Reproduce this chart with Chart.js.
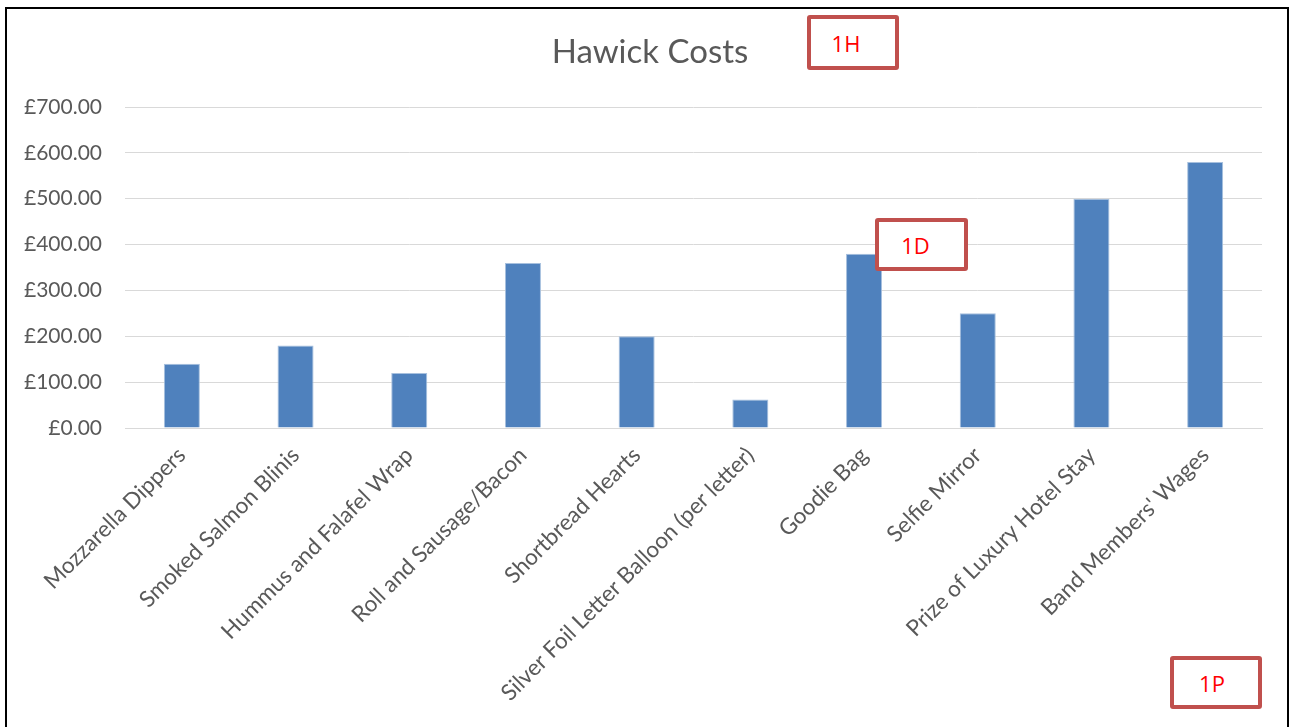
<!DOCTYPE html>
<html>
<head>
<meta charset="utf-8">
<script src="https://cdn.jsdelivr.net/npm/chart.js@4"></script>
<style>
  html, body { margin: 0; padding: 0; background: #fff; }
  #wrap { position: relative; width: 1295px; height: 727px; overflow: hidden; }
  #frame { position: absolute; left: 5px; top: 7px; width: 1284px; height: 730px; border: 2px solid #000; box-sizing: border-box; }
  canvas { position: absolute; left: 0; top: 0; }
  .tag { position: absolute; border: 4px solid #C0504D; border-radius: 3px; box-sizing: border-box; background: #fff;
         color: #FF0000; font-family: "Open Sans", Arial, sans-serif; font-size: 22px; line-height: 1; display: flex; align-items: center; justify-content: center; }
</style>
</head>
<body>
<div id="wrap">
  <canvas id="c" width="1295" height="727"></canvas>
  <div id="frame"></div>
  <div class="tag" style="left:807px;top:15px;width:92px;height:55px;padding-right:14px;">1H</div>
  <div class="tag" style="left:875px;top:218px;width:93px;height:53px;padding-right:12px;">1D</div>
  <div class="tag" style="left:1170px;top:656px;width:92px;height:53px;padding-right:8px;">1P</div>
</div>
<script>
const categories = [
  "Mozzarella Dippers",
  "Smoked Salmon Blinis",
  "Hummus and Falafel Wrap",
  "Roll and Sausage/Bacon",
  "Shortbread Hearts",
  "Silver Foil Letter Balloon (per letter)",
  "Goodie Bag",
  "Selfie Mirror",
  "Prize of Luxury Hotel Stay",
  "Band Members' Wages"
];
const costs = [140, 180, 120, 360, 200, 62, 380, 250, 500, 580];
const yTicks = [0, 100, 200, 300, 400, 500, 600, 700];
const chartTitle = "Hawick Costs";

const FONT = "Lato";

const titlePlugin = {
  id: 'centeredTitle',
  afterDraw(chart) {
    const ctx = chart.ctx;
    ctx.save();
    ctx.font = `normal 33px ${FONT}`;
    ctx.fillStyle = '#595959';
    ctx.textAlign = 'center';
    ctx.textBaseline = 'alphabetic';
    ctx.fillText(chartTitle, 650, 63);
    ctx.restore();
  }
};

new Chart(document.getElementById('c'), {
  type: 'bar',
  data: {
    labels: categories,
    datasets: [{
      data: costs,
      backgroundColor: '#4F81BD',
      borderColor: '#A7C0DE',
      borderWidth: {left: 1, right: 1, top: 1, bottom: 0},
      barPercentage: 0.317,
      categoryPercentage: 1.0
    }]
  },
  plugins: [titlePlugin],
  options: {
    responsive: false,
    animation: false,
    devicePixelRatio: 1,
    layout: { padding: { left: 0, right: 33, top: 107, bottom: 0 } },
    plugins: {
      legend: { display: false },
      tooltip: { enabled: false },
      title: { display: false }
    },
    scales: {
      x: {
        grid: { display: false, drawTicks: false },
        border: { display: true, color: '#D9D9D9', width: 1 },
        ticks: {
          color: '#595959',
          font: { family: FONT, size: 22.5 },
          minRotation: 45, maxRotation: 45,
          autoSkip: false,
          padding: 14
        },
        afterFit: (s) => { s.height = 727 - 428; }
      },
      y: {
        min: 0, max: 700,
        afterBuildTicks: (s) => { s.ticks = yTicks.map(v => ({ value: v })); },
        grid: { color: '#D9D9D9', lineWidth: 1, drawTicks: false },
        border: { display: false },
        ticks: {
          color: '#595959',
          font: { family: FONT, size: 21 },
          padding: 23,
          callback: (v) => '£' + Number(v).toFixed(2)
        },
        afterFit: (s) => { s.width = 125; }
      }
    }
  }
});
</script>
</body>
</html>
